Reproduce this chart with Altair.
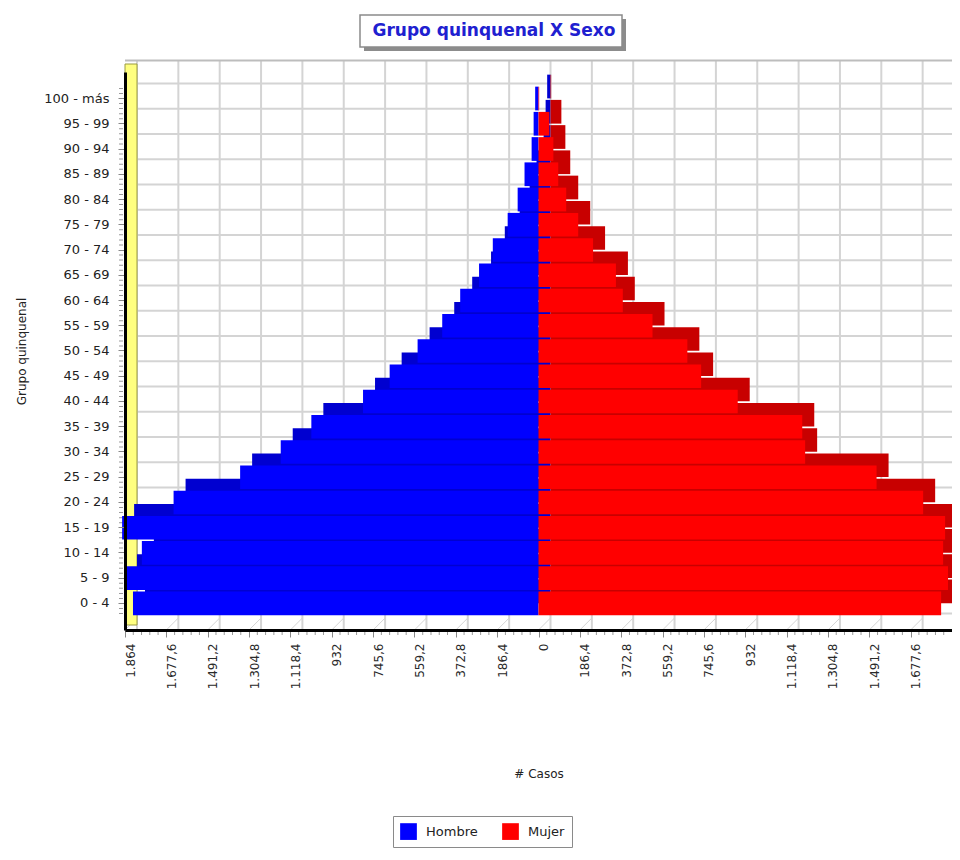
import altair as alt
import pandas as pd

# ---------------- data ----------------
grupos = ["0 - 4", "5 - 9", "10 - 14", "15 - 19", "20 - 24", "25 - 29", "30 - 34",
          "35 - 39", "40 - 44", "45 - 49", "50 - 54", "55 - 59", "60 - 64", "65 - 69",
          "70 - 74", "75 - 79", "80 - 84", "85 - 89", "90 - 94", "95 - 99", "100 - más"]
hombre = [1828, 1864, 1788, 1877, 1645, 1345, 1162, 1024, 791, 671, 545, 434,
          353, 268, 206, 139, 94, 63, 31, 22, 15]
mujer = [1815, 1846, 1824, 1833, 1734, 1524, 1202, 1189, 898, 733, 671, 514,
         380, 349, 246, 179, 125, 89, 67, 49, 3]
sexos = ["Hombre", "Mujer"]
colores = ["#0000ff", "#ff0000"]
colores_fondo = ["#0000d0", "#c80000"]
ticks_x = [-1864, -1677.6, -1491.2, -1304.8, -1118.4, -932, -745.6, -559.2, -372.8,
           -186.4, 0, 186.4, 372.8, 559.2, 745.6, 932, 1118.4, 1304.8, 1491.2, 1677.6]
grid_x = ticks_x + [1864]
titulo = "Grupo quinquenal X Sexo"

# ---------------- tables ----------------
rows = []
for g, h, m in zip(grupos, hombre, mujer):
    rows.append({"grupo": g, "sexo": "Hombre", "valor": -h})
    rows.append({"grupo": g, "sexo": "Mujer", "valor": m})
df = pd.DataFrame(rows)
df_grid = pd.DataFrame({"v": grid_x})
df_grupos = pd.DataFrame({"grupo": grupos})
df_wall = pd.DataFrame({"a": [ticks_x[0]]})
# minor tick positions (axis decoration): 4 between consecutive major ticks
minor = []
for a, b in zip(grid_x[:-1], grid_x[1:]):
    for k in range(1, 5):
        minor.append(a + (b - a) * k / 5)
df_minor = pd.DataFrame({"m": minor})

orden = list(reversed(grupos))
W, H = 827, 558
FONT = "DejaVu Sans"

xscale = alt.Scale(domain=[-1864, 1864], nice=False, zero=False)
yscale = alt.Scale(domain=orden, paddingInner=0.06, paddingOuter=0.58)

label_expr = ("replace(replace(replace(format(abs(datum.value), ',.1~f'), ',', '#'), "
              "'.', ','), '#', '.')")

x_axis = alt.Axis(values=ticks_x, labelExpr=label_expr, labelAngle=270,
                  labelFont=FONT, labelFontSize=12, labelColor="#2a2a2a",
                  labelPadding=6, labelOffset=5, tickColor="#888888", tickSize=7,
                  domainColor="#000000", domainWidth=3, grid=False,
                  title="# Casos", titleFont=FONT, titleFontSize=12,
                  titleFontWeight="normal", titleColor="#222222",
                  titlePadding=80, zindex=2)
y_axis = alt.Axis(labelFont=FONT, labelFontSize=13, labelColor="#222222",
                  labelPadding=9, tickColor="#888888", tickSize=7,
                  domainColor="#000000", domainWidth=3, grid=False,
                  title="Grupo quinquenal", titleFont=FONT, titleFontSize=12,
                  titleFontWeight="normal", titleColor="#222222",
                  titlePadding=15, zindex=2)


def X(field):
    return alt.X(field, scale=xscale, axis=x_axis)


def Y(field):
    return alt.Y(field, sort=orden, scale=yscale, axis=y_axis)


# back-wall grid (vertical)
grid_v = alt.Chart(df_grid).mark_rule(
    color="#d4d4d4", strokeWidth=2, xOffset=12, yOffset=-12, y2Offset=-12
).encode(x=X("v:Q"))

# back-wall grid (horizontal)
grid_h = alt.Chart(df_grupos).mark_rule(
    color="#d4d4d4", strokeWidth=2, yOffset=-15, xOffset=12, x2Offset=12
).encode(y=Y("grupo:N"))
grid_h_bottom = alt.Chart(df_grupos.iloc[:1]).mark_rule(
    color="#d4d4d4", strokeWidth=2, yOffset=10, xOffset=12, x2Offset=12
).encode(y=Y("grupo:N"))
grid_top = alt.Chart(df_grupos.iloc[-1:]).mark_rule(
    color="#bdbdbd", strokeWidth=2, yOffset=-38, xOffset=12, x2Offset=12
).encode(y=Y("grupo:N"))

# floor hatch
floor = alt.Chart(df_grid).mark_rule(
    color="#d4d4d4", strokeWidth=1, x2Offset=12
).encode(x=X("v:Q"), x2="v:Q", y=alt.value(H), y2=alt.value(H - 12))

# yellow left wall
wall = alt.Chart(df_wall).mark_rect(
    color="#ffff80", stroke="#9a9a40", strokeWidth=1, x2Offset=12
).encode(x=X("a:Q"), x2="a:Q", y=alt.value(-8), y2=alt.value(H - 5))

# minor ticks on the x axis
minor_x = alt.Chart(df_minor).mark_rule(color="#9a9a9a", strokeWidth=1).encode(
    x=X("m:Q"), y=alt.value(H + 1), y2=alt.value(H + 5))

# minor ticks on the y axis
minor_y = [
    alt.Chart(df_grupos).mark_rule(color="#9a9a9a", strokeWidth=1, yOffset=k, y2Offset=k)
    .encode(y=Y("grupo:N"), x=alt.value(-6), x2=alt.value(-2))
    for k in (-10, -5, 5, 10)
]


# 3D depth of the bars
def depth_layer(sexo, color):
    return alt.Chart(df).transform_filter(alt.datum.sexo == sexo).mark_bar(
        color=color, xOffset=12, x2Offset=12, yOffset=-12, y2Offset=-12
    ).encode(x=X("valor:Q"), y=Y("grupo:N"))


depth_h = depth_layer("Hombre", colores_fondo[0])
depth_m = depth_layer("Mujer", colores_fondo[1])

# front faces of the bars
front = alt.Chart(df).mark_bar().encode(
    x=X("valor:Q"),
    y=Y("grupo:N"),
    color=alt.Color("sexo:N", scale=alt.Scale(domain=sexos, range=colores),
                    legend=alt.Legend(title=None, orient="none", legendX=268,
                                      legendY=744, direction="horizontal",
                                      columns=2, symbolType="square",
                                      symbolSize=280, symbolStrokeWidth=0,
                                      labelFont=FONT, labelFontSize=13,
                                      labelColor="#222222", labelOffset=9,
                                      columnPadding=24, padding=7,
                                      strokeColor="#8a8a8a",
                                      fillColor="#ffffff")),
)

# title box
df_t = pd.DataFrame({"t": [titulo]})
title_shadow = alt.Chart(df_t).mark_rect(color="#8c8c8c").encode(
    x=alt.value(239), x2=alt.value(501), y=alt.value(-53), y2=alt.value(-21))
title_box = alt.Chart(df_t).mark_rect(
    fill="#ffffff", stroke="#8a8a8a", strokeWidth=1.5).encode(
    x=alt.value(235), x2=alt.value(497), y=alt.value(-57), y2=alt.value(-25))
title_text = alt.Chart(df_t).mark_text(
    font=FONT, fontSize=17, fontWeight="bold", color="#2020d0",
    align="center", baseline="middle").encode(
    text="t:N", x=alt.value(369), y=alt.value(-41))

chart = alt.layer(
    grid_v, grid_h, grid_h_bottom, grid_top, floor, wall, minor_x, *minor_y,
    depth_h, depth_m, front,
    title_shadow, title_box, title_text,
).properties(
    width=W, height=H,
    autosize=alt.AutoSizeParams(type="none"),
    padding={"left": 117, "top": 64, "right": 0, "bottom": 222},
    background="#ffffff",
).configure_view(stroke=None)

chart.save("out.html", embed_options={"renderer": "svg", "actions": False})
